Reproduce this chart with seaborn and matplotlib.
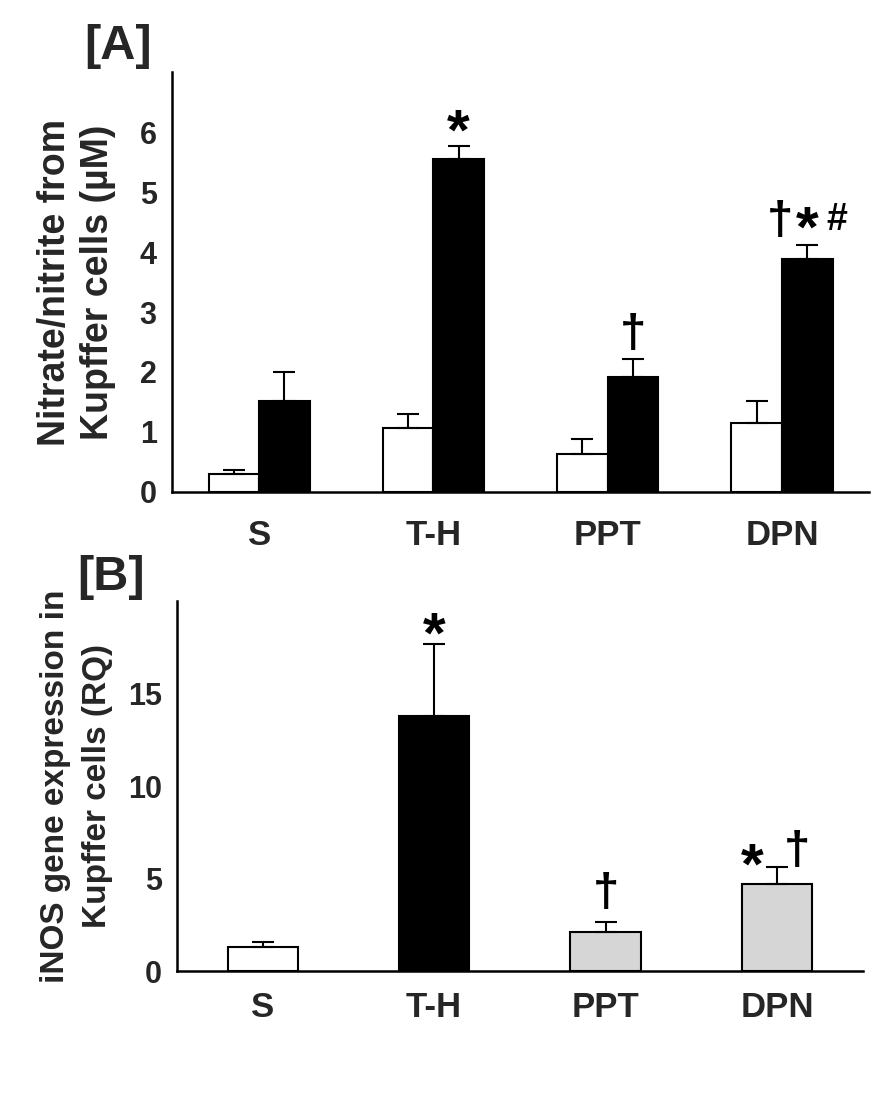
import numpy as np
import pandas as pd
import matplotlib.pyplot as plt
import seaborn as sns

# groups shown on both panels
groups = ['S', 'T-H', 'PPT', 'DPN']

# [A] nitrate/nitrite (uM): open and filled bars per group, upper SEM only
a_levels = ['open', 'filled']
a_open_mean = [0.30, 1.07, 0.63, 1.15]
a_open_err = [0.07, 0.22, 0.25, 0.36]
a_filled_mean = [1.52, 5.55, 1.91, 3.88]
a_filled_err = [0.48, 0.22, 0.31, 0.24]
a_yticks = [0, 1, 2, 3, 4, 5, 6]

# [B] iNOS gene expression (RQ)
b_mean = [1.30, 13.76, 2.10, 4.71]
b_err = [0.27, 3.90, 0.55, 0.92]
b_yticks = [0, 5, 10, 15]


def style_axis(ax, ymax, yticks, xpad):
    sns.despine(ax=ax)
    for side in ['left', 'bottom']:
        ax.spines[side].set_linewidth(1.8)
        ax.spines[side].set_color('black')
    ax.set_xlim(-0.5, 3.5)
    ax.set_ylim(0, ymax)
    ax.set_yticks(yticks + [ymax])
    ax.set_yticklabels([str(t) for t in yticks] + [''])
    ax.set_xticks(range(len(groups)))
    ax.set_xticklabels(groups)
    ax.set_xticks([0.5, 1.5, 2.5, 3.5], minor=True)
    ax.tick_params(axis='x', which='major', length=0, pad=xpad, labelsize=25)
    ax.tick_params(axis='x', which='minor', length=6, width=1.8, direction='out', color='black')
    ax.tick_params(axis='y', length=4, width=1.8, direction='out', pad=7, labelsize=22, color='black')
    for lab in ax.get_xticklabels() + ax.get_yticklabels():
        lab.set_fontweight('bold')
    ax.set_xlabel('')


def add_errors(ax, container, errs):
    xs = [p.get_x() + p.get_width() / 2 for p in container.patches]
    ys = [p.get_height() for p in container.patches]
    ax.errorbar(xs, ys, yerr=[np.zeros(len(errs)), errs], fmt='none',
                ecolor='black', elinewidth=1.5, capsize=8, capthick=1.5, zorder=3)
    return xs


def mark(ax, x, y, txt, size=42):
    ax.text(x, y, txt, ha='center', va='center', fontsize=size,
            fontweight='bold', color='black', zorder=4)


sns.set_theme(style='white')
plt.rcParams['font.family'] = ['Liberation Sans', 'DejaVu Sans']
plt.rcParams['font.weight'] = 'bold'

fig = plt.figure(figsize=(8.96, 11.15), dpi=100)
ax_a = fig.add_axes([0.192, 0.559, 0.778, 0.376])
ax_b = fig.add_axes([0.1975, 0.129, 0.7655, 0.332])

# ---- panel A ----
df_a = pd.DataFrame({
    'group': groups * 2,
    'level': [a_levels[0]] * 4 + [a_levels[1]] * 4,
    'value': a_open_mean + a_filled_mean,
})
sns.barplot(data=df_a, x='group', y='value', hue='level', order=groups,
            hue_order=a_levels, palette={'open': 'white', 'filled': 'black'},
            width=0.58, edgecolor='black', linewidth=1.5, errorbar=None,
            legend=False, ax=ax_a)
add_errors(ax_a, ax_a.containers[0], a_open_err)
xs_f = add_errors(ax_a, ax_a.containers[1], a_filled_err)
style_axis(ax_a, 7, a_yticks, 20)
ax_a.set_ylabel('Nitrate/nitrite from\nKupffer cells (µM)', fontsize=27,
                fontweight='bold', linespacing=1.27)
ax_a.yaxis.set_label_coords(-0.080, 0.5)

top_f = [m + e for m, e in zip(a_filled_mean, a_filled_err)]
mark(ax_a, xs_f[1], top_f[1] + 0.20, '*')
mark(ax_a, xs_f[2], top_f[2] + 0.40, '†', 34)
mark(ax_a, xs_f[3] - 0.155, top_f[3] + 0.38, '†', 34)
mark(ax_a, xs_f[3], top_f[3] + 0.23, '*')
mark(ax_a, xs_f[3] + 0.17, top_f[3] + 0.42, '#', 27)

# ---- panel B ----
df_b = pd.DataFrame({'group': groups, 'value': b_mean})
sns.barplot(data=df_b, x='group', y='value', hue='group', order=groups,
            palette=['white', 'black', '#d6d6d6', '#d6d6d6'],
            width=0.41, edgecolor='black', linewidth=1.5, errorbar=None,
            legend=False, ax=ax_b)
bars_b = [c.patches[0] for c in ax_b.containers]
xs_b = [p.get_x() + p.get_width() / 2 for p in bars_b]
ax_b.errorbar(xs_b, b_mean, yerr=[np.zeros(4), b_err], fmt='none', ecolor='black',
              elinewidth=1.5, capsize=8, capthick=1.5, zorder=3)
style_axis(ax_b, 20, b_yticks, 14)
ax_b.set_ylabel('iNOS gene expression in\nKupffer cells (RQ)', fontsize=24,
                fontweight='bold', linespacing=1.45)
ax_b.yaxis.set_label_coords(-0.093, 0.5)

top_b = [m + e for m, e in zip(b_mean, b_err)]
mark(ax_b, xs_b[1], top_b[1] + 0.38, '*')
mark(ax_b, xs_b[2], top_b[2] + 1.50, '†', 34)
mark(ax_b, xs_b[3] - 0.146, top_b[3] - 0.10, '*')
mark(ax_b, xs_b[3] + 0.117, top_b[3] + 0.80, '†', 34)

fig.text(0.132, 0.958, '[A]', fontsize=35, fontweight='bold', ha='center', va='center')
fig.text(0.124, 0.482, '[B]', fontsize=35, fontweight='bold', ha='center', va='center')

fig.savefig('out.png', dpi=100, facecolor='white')
